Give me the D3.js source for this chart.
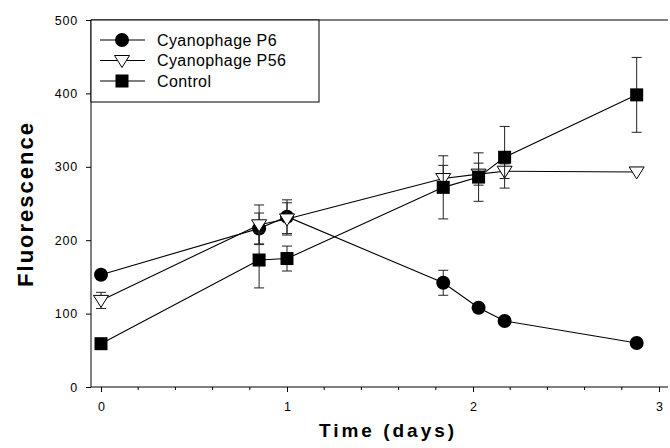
<!DOCTYPE html>
<html>
<head>
<meta charset="utf-8">
<script src="https://cdn.jsdelivr.net/npm/d3@7"></script>
<style>
  body { margin: 0; background: #fff; }
  svg { display: block; font-family: "Liberation Sans", Arial, sans-serif; }
</style>
</head>
<body>
<div id="chart"></div>
<script>
// Data
const times = [0, 0.85, 1.0, 1.84, 2.03, 2.17, 2.88];
const p6 = [153, 216, 232, 142, 108, 90, 60];
const p6Err = [0, 21, 23, 17, 0, 0, 0];
const p56 = [118, 221, 229, 284, 290, 294, 293];
const p56Err = [11, 27, 22, 18, 15, 10, 0];
const control = [59, 173, 175, 272, 286, 313, 398];
const controlErr = [0, 38, 17, 43, 33, 42, 51];
const seriesNames = ["Cyanophage P6", "Cyanophage P56", "Control"];
const xTicks = [0, 1, 2, 3];
const yTicks = [0, 100, 200, 300, 400, 500];

const W = 670, H = 448;
const svg = d3.select("#chart").append("svg")
    .attr("width", W)
    .attr("height", H);

// scales
const x = d3.scaleLinear().domain([0, 3]).range([101, 659]);
const y = d3.scaleLinear().domain([0, 500]).range([387, 20]);
const left = 91, right = 668;

const series = [
    { name: seriesNames[0], vals: p6, err: p6Err, shape: "circle" },
    { name: seriesNames[1], vals: p56, err: p56Err, shape: "triangle" },
    { name: seriesNames[2], vals: control, err: controlErr, shape: "square" }
];

// frame: left axis line, top line, bottom axis line
svg.append("line")
    .attr("x1", left).attr("x2", left)
    .attr("y1", y(500)).attr("y2", y(0))
    .attr("stroke", "#000").attr("stroke-width", 1);
svg.append("line")
    .attr("x1", left).attr("x2", right)
    .attr("y1", y(500)).attr("y2", y(500))
    .attr("stroke", "#000").attr("stroke-width", 1);
svg.append("line")
    .attr("x1", left).attr("x2", right)
    .attr("y1", y(0)).attr("y2", y(0))
    .attr("stroke", "#000").attr("stroke-width", 1.2);

// Y axis
const yAxis = svg.append("g")
    .attr("transform", `translate(${left},0)`)
    .call(d3.axisLeft(y).tickValues(yTicks).tickSize(5).tickPadding(8));
yAxis.select(".domain").remove();
yAxis.selectAll("text").attr("font-size", "12.5px").attr("fill", "#000")
    .attr("letter-spacing", "0.8px")
    .attr("font-family", "Liberation Sans, Arial, sans-serif");

// X axis (major + minor)
const xAxis = svg.append("g")
    .attr("transform", `translate(0,${y(0)})`)
    .call(d3.axisBottom(x).tickValues(xTicks).tickFormat(d3.format("d"))
        .tickSize(5).tickPadding(10));
xAxis.select(".domain").remove();
xAxis.selectAll("text").attr("font-size", "12.5px").attr("fill", "#000")
    .attr("font-family", "Liberation Sans, Arial, sans-serif");

const minor = d3.range(0, 3.01, 0.2).filter(v => Math.abs(v - Math.round(v)) > 0.01);
svg.append("g")
    .selectAll("line")
    .data(minor)
    .join("line")
    .attr("x1", d => x(d)).attr("x2", d => x(d))
    .attr("y1", y(0)).attr("y2", y(0) + 3)
    .attr("stroke", "#000").attr("stroke-width", 1);

// axis titles
svg.append("text")
    .attr("x", 388).attr("y", 437)
    .attr("text-anchor", "middle")
    .attr("font-size", "19px")
    .attr("font-weight", "bold")
    .attr("letter-spacing", "3px")
    .text("Time (days)");

svg.append("text")
    .attr("transform", "translate(33,204) rotate(-90)")
    .attr("text-anchor", "middle")
    .attr("font-size", "22px")
    .attr("font-weight", "bold")
    .attr("letter-spacing", "2px")
    .text("Fluorescence");

// marker drawing helper
function drawMarker(g, shape, cx, cy) {
    if (shape === "circle") {
        g.append("circle").attr("cx", cx).attr("cy", cy).attr("r", 7)
            .attr("fill", "#000");
    } else if (shape === "square") {
        g.append("rect").attr("x", cx - 6.5).attr("y", cy - 6.5)
            .attr("width", 13).attr("height", 13).attr("fill", "#000");
    } else {
        g.append("path")
            .attr("d", `M${cx - 7.5},${cy - 5} L${cx + 7.5},${cy - 5} L${cx},${cy + 7} Z`)
            .attr("fill", "#fff").attr("stroke", "#000").attr("stroke-width", 1);
    }
}

const line = d3.line().x(d => x(d.t)).y(d => y(d.v));

// draw each series: error bars, line, markers
series.forEach(s => {
    const pts = times.map((t, i) => ({ t, v: s.vals[i], e: s.err[i] }));
    const g = svg.append("g");

    const eb = g.append("g").attr("stroke", "#222").attr("stroke-width", 1);
    pts.filter(d => d.e > 0).forEach(d => {
        eb.append("line")
            .attr("x1", x(d.t)).attr("x2", x(d.t))
            .attr("y1", y(d.v - d.e)).attr("y2", y(d.v + d.e));
        [d.v - d.e, d.v + d.e].forEach(v => {
            eb.append("line")
                .attr("x1", x(d.t) - 5).attr("x2", x(d.t) + 5)
                .attr("y1", y(v)).attr("y2", y(v));
        });
    });

    g.append("path")
        .datum(pts)
        .attr("d", line)
        .attr("fill", "none")
        .attr("stroke", "#000")
        .attr("stroke-width", 1.1);

    pts.forEach(d => drawMarker(g, s.shape, x(d.t), y(d.v)));
});

// legend
const legend = svg.append("g");
legend.append("rect")
    .attr("x", left).attr("y", y(500))
    .attr("width", 228).attr("height", 82)
    .attr("fill", "#fff").attr("stroke", "#000").attr("stroke-width", 1);

series.forEach((s, i) => {
    const ly = 40 + i * 20.5;
    legend.append("line")
        .attr("x1", 100).attr("x2", 145)
        .attr("y1", ly).attr("y2", ly)
        .attr("stroke", "#000").attr("stroke-width", 1.1);
    drawMarker(legend, s.shape, 122, ly);
    legend.append("text")
        .attr("x", 157).attr("y", ly)
        .attr("dy", "0.35em")
        .attr("font-size", "16px")
        .attr("letter-spacing", "0.4px")
        .text(s.name);
});
</script>
</body>
</html>
